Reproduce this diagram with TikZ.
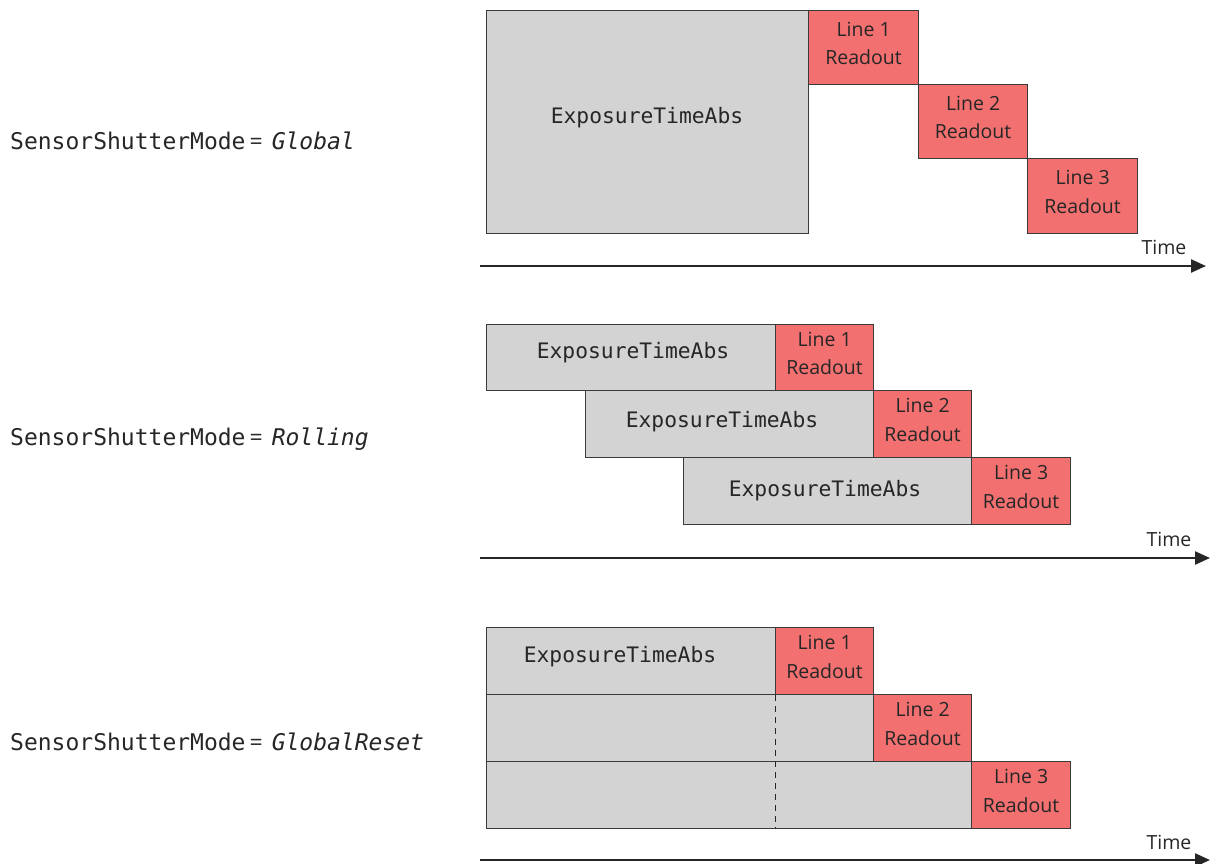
\documentclass[tikz,border=0pt]{standalone}
\usepackage{fontspec}
\setmainfont{Open Sans}
\newfontfamily\monof{DejaVu Sans Mono}
\usetikzlibrary{arrows.meta}
\definecolor{expg}{HTML}{D3D3D3}
\definecolor{rdred}{HTML}{F27070}
\definecolor{edgec}{HTML}{3A3A3A}
\definecolor{txt}{HTML}{262626}
\begin{document}
\begin{tikzpicture}[x=1pt,y=-1pt,
  boxbase/.style={draw=edgec, line width=1.2pt, rectangle, inner sep=0pt, anchor=north west},
  gbox/.style={boxbase, fill=expg},
  rbox/.style={boxbase, fill=rdred},
  rtext/.style={text=txt, inner sep=0pt, align=center, yshift=4pt, font=\fontsize{19.5}{28.5}\selectfont},
  exptext/.style={text=txt, inner sep=0pt, font=\monof\fontsize{21.3}{26}\selectfont},
  modelbl/.style={text=txt, inner sep=0pt, anchor=west, font=\monof\fontsize{23}{28}\selectfont},
  timelbl/.style={text=txt, inner sep=0pt, font=\fontsize{19.5}{26}\selectfont},
  timearrow/.style={draw=txt, line width=2.4pt, -{Triangle[length=15pt,width=13pt]}},
  dashline/.style={draw=txt, line width=1pt, dash pattern=on 6pt off 5pt}
]
\useasboundingbox (0,0) rectangle (1210,863);

% ---------- Global ----------
\node[modelbl] (m1) at (10,141) {SensorShutterMode\hspace{4pt}{\rmfamily =}\hspace{9pt}\textit{Global}};
\node[gbox, minimum width=322pt, minimum height=223pt] (g1) at (486,10) {};
\node[exptext] (g1t) at (647,118) {ExposureTimeAbs};
\node[rbox, minimum width=110pt, minimum height=74pt] (g1r1) at (808,10) {};
\node[rtext] (g1r1t) at (g1r1.center) {Line 1\\Readout};
\node[rbox, minimum width=109pt, minimum height=74pt] (g1r2) at (918,84) {};
\node[rtext] (g1r2t) at (g1r2.center) {Line 2\\Readout};
\node[rbox, minimum width=110pt, minimum height=75pt] (g1r3) at (1027,158) {};
\node[rtext] (g1r3t) at (g1r3.center) {Line 3\\Readout};
\coordinate (a1s) at (480,266);
\coordinate (a1e) at (1206,266);
\draw[timearrow] (a1s) -- (a1e);
\node[timelbl] (t1) at (1164,247) {Time};

% ---------- Rolling ----------
\node[modelbl] (m2) at (10,439) {SensorShutterMode\hspace{4pt}{\rmfamily =}\hspace{9pt}\textit{Rolling}};
\node[gbox, minimum width=289pt, minimum height=66pt] (r1) at (486,324) {};
\node[exptext] (r1t) at (633,353) {ExposureTimeAbs};
\node[rbox, minimum width=98pt, minimum height=66pt] (r1r) at (775,324) {};
\node[rtext] (r1rt) at (r1r.center) {Line 1\\Readout};
\node[gbox, minimum width=288pt, minimum height=67pt] (r2) at (585,390) {};
\node[exptext] (r2t) at (722,422) {ExposureTimeAbs};
\node[rbox, minimum width=98pt, minimum height=67pt] (r2r) at (873,390) {};
\node[rtext] (r2rt) at (r2r.center) {Line 2\\Readout};
\node[gbox, minimum width=288pt, minimum height=67pt] (r3) at (683,457) {};
\node[exptext] (r3t) at (825,491) {ExposureTimeAbs};
\node[rbox, minimum width=99pt, minimum height=67pt] (r3r) at (971,457) {};
\node[rtext] (r3rt) at (r3r.center) {Line 3\\Readout};
\coordinate (a2s) at (480,558);
\coordinate (a2e) at (1210,558);
\draw[timearrow] (a2s) -- (a2e);
\node[timelbl] (t2) at (1169,539) {Time};

% ---------- GlobalReset ----------
\node[modelbl] (m3) at (10,742) {SensorShutterMode\hspace{4pt}{\rmfamily =}\hspace{9pt}\textit{GlobalReset}};
\node[gbox, minimum width=289pt, minimum height=67pt] (s1) at (486,627) {};
\node[exptext] (s1t) at (620,657) {ExposureTimeAbs};
\node[rbox, minimum width=98pt, minimum height=67pt] (s1r) at (775,627) {};
\node[rtext] (s1rt) at (s1r.center) {Line 1\\Readout};
\node[gbox, minimum width=387pt, minimum height=67pt] (s2) at (486,694) {};
\node[rbox, minimum width=98pt, minimum height=67pt] (s2r) at (873,694) {};
\node[rtext] (s2rt) at (s2r.center) {Line 2\\Readout};
\node[gbox, minimum width=485pt, minimum height=67pt] (s3) at (486,761) {};
\node[rbox, minimum width=99pt, minimum height=67pt] (s3r) at (971,761) {};
\node[rtext] (s3rt) at (s3r.center) {Line 3\\Readout};
\draw[dashline] (s1r.south west) -- (s1r.south west |- s3.south);
\coordinate (a3s) at (480,860);
\coordinate (a3e) at (1210,860);
\draw[timearrow] (a3s) -- (a3e);
\node[timelbl] (t3) at (1169,842) {Time};
\end{tikzpicture}
\end{document}
